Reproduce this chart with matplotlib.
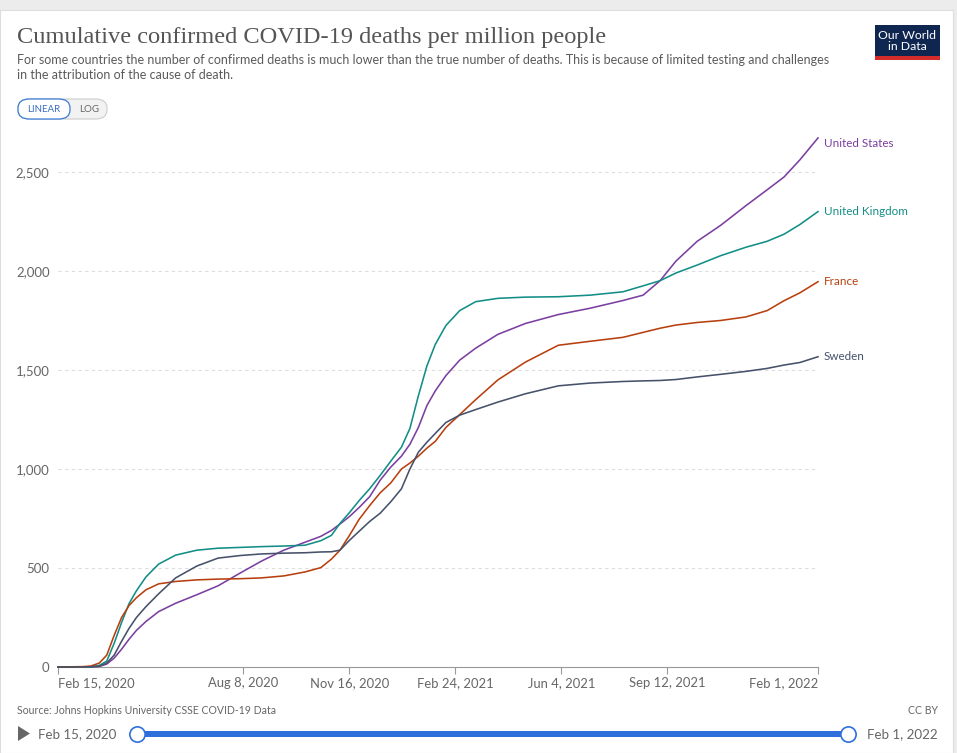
import matplotlib
matplotlib.use("Agg")
import matplotlib.pyplot as plt
from matplotlib.patches import FancyBboxPatch, Rectangle, Polygon
import pandas as pd

# ---------------- data ----------------
dates = ["2020-02-15", "2020-03-10", "2020-03-17", "2020-03-25", "2020-04-01",
         "2020-04-08", "2020-04-15", "2020-04-22", "2020-04-29", "2020-05-08",
         "2020-05-20", "2020-06-05", "2020-06-25", "2020-07-15", "2020-08-05",
         "2020-08-25", "2020-09-15", "2020-10-05", "2020-10-20", "2020-10-30",
         "2020-11-07", "2020-11-16", "2020-11-25", "2020-12-05", "2020-12-15",
         "2020-12-25", "2021-01-04", "2021-01-12", "2021-01-20", "2021-01-28",
         "2021-02-05", "2021-02-15", "2021-02-28", "2021-03-15", "2021-04-05",
         "2021-05-01", "2021-06-01", "2021-07-01", "2021-08-01", "2021-08-20",
         "2021-09-05", "2021-09-20", "2021-10-10", "2021-11-01", "2021-11-25",
         "2021-12-15", "2021-12-31", "2022-01-15", "2022-02-01"]

united_states = [0, 0, 1, 3, 15, 45, 90, 140, 185, 230,
                 280, 322, 365, 410, 475, 535, 590, 630, 660, 690,
                 722, 760, 805, 860, 944, 1010, 1065, 1125, 1210, 1320,
                 1395, 1472, 1550, 1610, 1680, 1735, 1780, 1812, 1851, 1878,
                 1951, 2050, 2150, 2230, 2330, 2410, 2475, 2562, 2672]
united_kingdom = [0, 0, 1, 8, 30, 120, 225, 320, 385, 455,
                  520, 565, 590, 600, 604, 608, 611, 615, 638, 665,
                  725, 780, 840, 900, 968, 1040, 1110, 1205, 1370, 1520,
                  1630, 1725, 1800, 1845, 1862, 1868, 1870, 1878, 1895, 1925,
                  1951, 1990, 2030, 2077, 2120, 2150, 2186, 2235, 2300]
france = [0, 2, 5, 20, 60, 160, 250, 310, 350, 390,
          420, 432, 440, 444, 446, 450, 460, 480, 502, 545,
          590, 665, 745, 815, 880, 930, 1000, 1030, 1065, 1105,
          1140, 1210, 1275, 1350, 1450, 1540, 1625, 1645, 1665, 1690,
          1711, 1727, 1740, 1750, 1768, 1800, 1850, 1890, 1946]
sweden = [0, 0, 1, 4, 20, 60, 130, 195, 250, 305,
          370, 450, 510, 550, 563, 571, 575, 577, 581, 582,
          590, 640, 685, 735, 777, 835, 900, 1000, 1085, 1135,
          1180, 1235, 1272, 1300, 1338, 1380, 1420, 1434, 1442, 1445,
          1447, 1452, 1465, 1478, 1493, 1508, 1525, 1538, 1567]

series_names = ["United States", "United Kingdom", "France", "Sweden"]
series_values = [united_states, united_kingdom, france, sweden]
series_colors = ["#7B3FA0", "#138E86", "#B8400F", "#46526A"]
label_offsets = [-4, 0, 0, 0]

x_tick_dates = ["2020-02-15", "2020-08-08", "2020-11-16", "2021-02-24",
                "2021-06-04", "2021-09-12", "2022-02-01"]
x_tick_labels = ["Feb 15, 2020", "Aug 8, 2020", "Nov 16, 2020", "Feb 24, 2021",
                 "Jun 4, 2021", "Sep 12, 2021", "Feb 1, 2022"]
y_ticks = [0, 500, 1000, 1500, 2000, 2500]
y_tick_labels = ["0", "500", "1,000", "1,500", "2,000", "2,500"]

title = "Cumulative confirmed COVID-19 deaths per million people"
subtitle = ("For some countries the number of confirmed deaths is much lower than the true number of deaths. "
            "This is because of limited testing and challenges\nin the attribution of the cause of death.")
source = "Source: Johns Hopkins University CSSE COVID-19 Data"

# ---------------- figure ----------------
W, H = 957, 753
fig = plt.figure(figsize=(W / 100, H / 100), dpi=100)
fig.patch.set_facecolor("#ececec")

def fx(px):
    return px / W

def fy(py):
    return 1 - py / H

card = Rectangle((0, 0), fx(953), fy(10), transform=fig.transFigure,
                 facecolor="white", edgecolor="#dddddd", lw=0.8, zorder=-10)
fig.patches.append(card)

FONT = ["Lato", "DejaVu Sans"]

ax_left, ax_right, ax_bottom_px, ax_top_px = 58, 818, 667, 128
ax = fig.add_axes([fx(ax_left), fy(ax_bottom_px), fx(ax_right - ax_left),
                   (ax_bottom_px - ax_top_px) / H], zorder=5)
ax.set_facecolor("none")

d = pd.to_datetime(dates)
for name, vals, col, off in zip(series_names, series_values, series_colors, label_offsets):
    ax.plot(d, vals, color=col, lw=1.15, solid_joinstyle="round", zorder=3,
            clip_on=False)
    ax.annotate(name, xy=(d[-1], vals[-1]), xytext=(4, off), textcoords="offset points",
                ha="left", va="center", color=col, fontsize=8.4, family=FONT,
                annotation_clip=False)

ax.set_xlim(pd.Timestamp("2020-02-15"), pd.Timestamp("2022-02-01"))
ymax = (ax_bottom_px - ax_top_px) / 0.198
ax.set_ylim(0, ymax)

ax.set_yticks(y_ticks)
ax.set_yticklabels(y_tick_labels, family=FONT, fontsize=9.5, color="#666666")
ax.tick_params(axis="y", length=0, pad=6)
for yv in y_ticks[1:]:
    ax.axhline(yv, color="#dddddd", lw=0.8, ls=(0, (3, 3)), zorder=1)

xt = pd.to_datetime(x_tick_dates)
ax.set_xticks(xt)
ax.set_xticklabels(x_tick_labels, family=FONT, fontsize=9.4, color="#666666")
ax.tick_params(axis="x", length=5, width=0.8, color="#999999", pad=2)
labels = ax.get_xticklabels()
labels[0].set_ha("left")
labels[-1].set_ha("right")

for s in ["top", "right", "left"]:
    ax.spines[s].set_visible(False)
ax.spines["bottom"].set_color("#999999")
ax.spines["bottom"].set_linewidth(0.8)

# ---------------- header ----------------
fig.text(fx(17), fy(37), title, family=["Liberation Serif"], fontsize=17.6,
         color="#555555", va="center", ha="left")
fig.text(fx(17), fy(67.5), subtitle, family=FONT, fontsize=9.0, color="#5b5b5b",
         va="center", ha="left", linespacing=1.3)

tog = FancyBboxPatch((fx(18), fy(119)), fx(89), (119 - 99) / H,
                     boxstyle="round,pad=0,rounding_size=0.012",
                     transform=fig.transFigure, facecolor="#f2f2f2",
                     edgecolor="#cccccc", lw=0.8)
fig.patches.append(tog)
lin = FancyBboxPatch((fx(18), fy(119)), fx(52), (119 - 99) / H,
                     boxstyle="round,pad=0,rounding_size=0.012",
                     transform=fig.transFigure, facecolor="white",
                     edgecolor="#3a7bd5", lw=0.9)
fig.patches.append(lin)
fig.text(fx(44), fy(109.5), "LINEAR", family=FONT, fontsize=7, color="#3a6fc4",
         ha="center", va="center")
fig.text(fx(89), fy(109.5), "LOG", family=FONT, fontsize=7, color="#666666",
         ha="center", va="center")

logo = Rectangle((fx(875), fy(60)), fx(65), (60 - 25) / H, transform=fig.transFigure,
                 facecolor="#0f2650", edgecolor="none")
fig.patches.append(logo)
red = Rectangle((fx(875), fy(60)), fx(65), 4 / H, transform=fig.transFigure,
                facecolor="#d42b2b", edgecolor="none")
fig.patches.append(red)
fig.text(fx(907.5), fy(41), "Our World\nin Data", family=FONT, fontsize=8.8,
         color="white", ha="center", va="center", linespacing=0.95)

# ---------------- footer ----------------
fig.text(fx(17), fy(710), source, family=FONT, fontsize=7.6, color="#666666",
         ha="left", va="center")
fig.text(fx(938), fy(710), "CC BY", family=FONT, fontsize=7.6, color="#666666",
         ha="right", va="center")

tri = Polygon([[fx(18), fy(726)], [fx(18), fy(741)], [fx(30), fy(733.5)]],
              closed=True, transform=fig.transFigure, facecolor="#666666",
              edgecolor="none")
fig.patches.append(tri)
fig.text(fx(38), fy(734), "Feb 15, 2020", family=FONT, fontsize=9.6, color="#666666",
         ha="left", va="center")
fig.text(fx(938), fy(734), "Feb 1, 2022", family=FONT, fontsize=9.6, color="#666666",
         ha="right", va="center")
bar = Rectangle((fx(137), fy(736.5)), fx(848 - 137), 6 / H, transform=fig.transFigure,
                facecolor="#2f6fdc", edgecolor="none")
fig.patches.append(bar)
for cx in [137, 848]:
    fig.lines.append(plt.Line2D([fx(cx)], [fy(733.5)], transform=fig.transFigure,
                                marker="o", markersize=11, markerfacecolor="white",
                                markeredgecolor="#2f6fdc", markeredgewidth=1.2))

fig.savefig("out.png", dpi=100, facecolor=fig.get_facecolor())
